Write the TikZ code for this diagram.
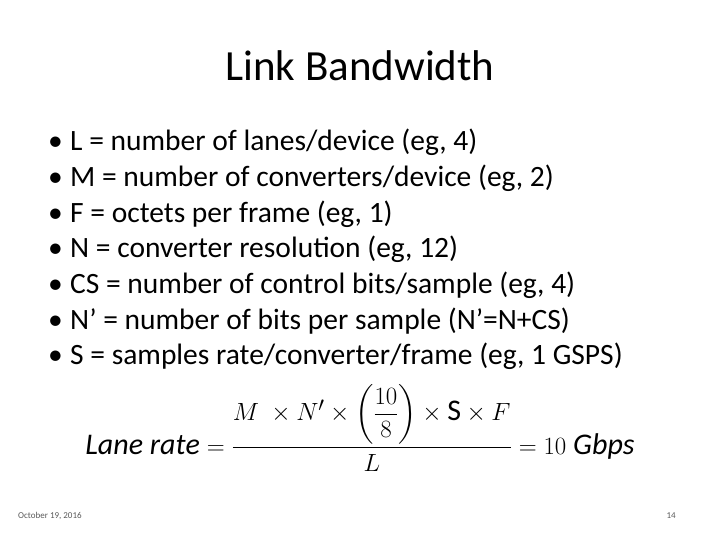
\documentclass[tikz,border=0pt]{standalone}
\usepackage{fontspec}
\setmainfont{Carlito}
\usepackage{amsmath}
\begin{document}
\begin{tikzpicture}[x=1pt,y=-1pt,
  bul/.style={anchor=base west,inner sep=0pt,font=\fontsize{29.5}{33}\selectfont},
  dot/.style={anchor=base west,inner sep=0pt,font=\fontsize{29.5}{33}\selectfont}]
\useasboundingbox (0,0) rectangle (720,540);
\node[inner sep=0pt,anchor=base,font=\fontsize{43}{48}\selectfont] (title) at (360,81) {Link Bandwidth};
\foreach \t [count=\i] in {{L = number of lanes/device (eg, 4)},
  {M = number of converters/device (eg, 2)},
  {F = octets per frame (eg, 1)},
  {N = converter resolution (eg, 12)},
  {CS = number of control bits/sample (eg, 4)},
  {N’ = number of bits per sample (N’=N+CS)},
  {S = samples rate/converter/frame (eg, 1 GSPS)}}{
  \node[dot] (d\i) at (48,{151+35.6*(\i-1)}) {•};
  \node[bul] (b\i) at (70,{151+35.6*(\i-1)}) {\t};
}
\node[inner sep=0pt,font=\fontsize{30}{34}\selectfont] (eq) at (360,428)
  {$\displaystyle \mathit{Lane\ rate}=\frac{M\ \times N'\times\left(\dfrac{10}{8}\right)\times \mathrm{S}\times F}{L}=10\ \mathit{Gbps}$};
\node[anchor=base west,inner sep=0pt,font=\fontsize{9}{11}\selectfont,text=gray!70!black] (date) at (18,518) {October 19, 2016};
\node[anchor=base east,inner sep=0pt,font=\fontsize{9}{11}\selectfont,text=gray!70!black] (pg) at (676,518) {14};
\end{tikzpicture}
\end{document}
